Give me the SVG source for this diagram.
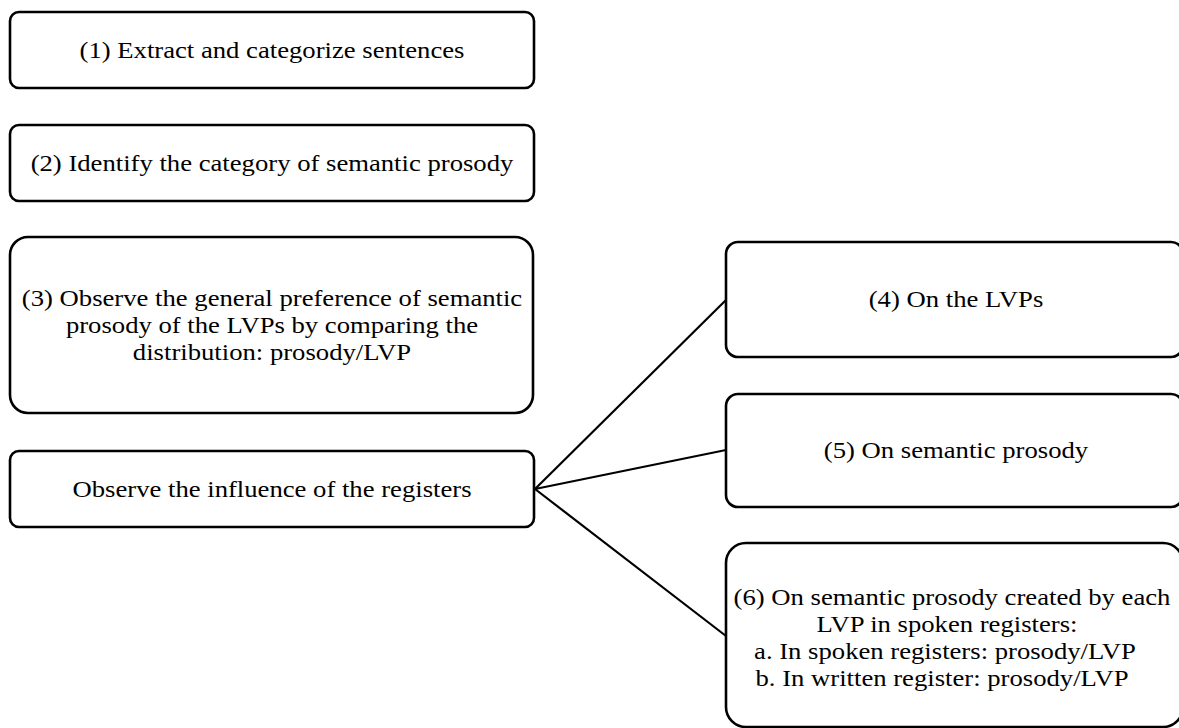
<svg xmlns="http://www.w3.org/2000/svg" width="1179" height="728" viewBox="0 0 1179 728">
<style>
  .box { fill: #ffffff; stroke: #000000; stroke-width: 2.6; }
  .lbl { font-family: "Liberation Serif", "Times New Roman", serif; font-size: 23px; fill: #000000; text-anchor: middle; }
  .conn { stroke: #000000; stroke-width: 2.2; fill: none; }
</style>
<rect x="0" y="0" width="1179" height="728" fill="#ffffff"/>
<g id="connectors">
  <line class="conn" x1="535" y1="489" x2="726" y2="300"/>
  <line class="conn" x1="535" y1="489" x2="726" y2="450"/>
  <line class="conn" x1="535" y1="489" x2="726" y2="636"/>
</g>
<g id="n1">
  <rect class="box" x="10" y="12" width="524" height="76" rx="9"/>
  <text class="lbl" transform="translate(272,58) scale(1.16,1)">(1) Extract and categorize sentences</text>
</g>
<g id="n2">
  <rect class="box" x="10" y="125" width="524" height="76" rx="9"/>
  <text class="lbl" transform="translate(272,171) scale(1.16,1)">(2) Identify the category of semantic prosody</text>
</g>
<g id="n3">
  <rect class="box" x="10" y="237" width="523" height="176" rx="18"/>
  <text class="lbl" transform="translate(272,306) scale(1.16,1)">(3) Observe the general preference of semantic</text>
  <text class="lbl" transform="translate(272,333) scale(1.16,1)">prosody of the LVPs by comparing the</text>
  <text class="lbl" transform="translate(272,360) scale(1.16,1)">distribution: prosody/LVP</text>
</g>
<g id="n_registers">
  <rect class="box" x="10" y="451" width="524" height="76" rx="9"/>
  <text class="lbl" transform="translate(272,497) scale(1.16,1)">Observe the influence of the registers</text>
</g>
<g id="n4">
  <rect class="box" x="726" y="242" width="457" height="115" rx="12"/>
  <text class="lbl" transform="translate(956,307) scale(1.16,1)">(4) On the LVPs</text>
</g>
<g id="n5">
  <rect class="box" x="726" y="394" width="457" height="113" rx="12"/>
  <text class="lbl" transform="translate(956,458) scale(1.16,1)">(5) On semantic prosody</text>
</g>
<g id="n6">
  <rect class="box" x="726" y="543" width="457" height="184" rx="20"/>
  <text class="lbl" transform="translate(952,605) scale(1.16,1)">(6) On semantic prosody created by each</text>
  <text class="lbl" transform="translate(947,632) scale(1.16,1)">LVP in spoken registers:</text>
  <text class="lbl" transform="translate(945,659) scale(1.16,1)">a. In spoken registers: prosody/LVP</text>
  <text class="lbl" transform="translate(942,686) scale(1.16,1)">b. In written register: prosody/LVP</text>
</g>
</svg>
